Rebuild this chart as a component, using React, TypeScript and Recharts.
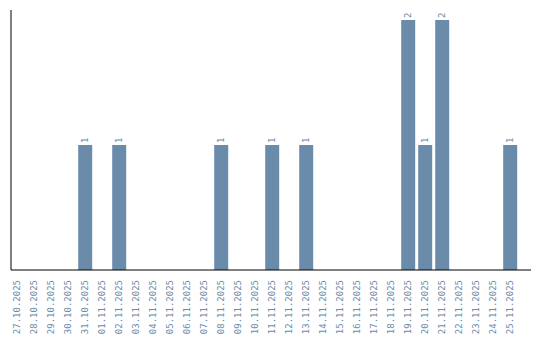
import React from "react";
import { BarChart, Bar, XAxis, YAxis, LabelList } from "recharts";

const dates = [
  "27.10.2025", "28.10.2025", "29.10.2025", "30.10.2025", "31.10.2025",
  "01.11.2025", "02.11.2025", "03.11.2025", "04.11.2025", "05.11.2025",
  "06.11.2025", "07.11.2025", "08.11.2025", "09.11.2025", "10.11.2025",
  "11.11.2025", "12.11.2025", "13.11.2025", "14.11.2025", "15.11.2025",
  "16.11.2025", "17.11.2025", "18.11.2025", "19.11.2025", "20.11.2025",
  "21.11.2025", "22.11.2025", "23.11.2025", "24.11.2025", "25.11.2025",
];

const counts = [
  0, 0, 0, 0, 1,
  0, 1, 0, 0, 0,
  0, 0, 1, 0, 0,
  1, 0, 1, 0, 0,
  0, 0, 0, 2, 1,
  2, 0, 0, 0, 1,
];

const data = dates.map((d, i) => ({ date: d, count: counts[i] }));

const BLUE = "#6a8caa";
const MONO = "'DejaVu Sans Mono', monospace";

// rotated date labels under the axis
const DateTick = (props: any) => {
  const { x, y, payload } = props;
  const ty = y + 2;
  return (
    <text
      x={x}
      y={ty}
      transform={`rotate(-90, ${x}, ${ty})`}
      textAnchor="end"
      dominantBaseline="central"
      fill={BLUE}
      fontSize={9}
      fontFamily={MONO}
    >
      {payload.value}
    </text>
  );
};

// value above each bar, skip empty days
const ValueLabel = (props: any) => {
  const { x, y, width, value } = props;
  if (!value) return null;
  const cx = x + width / 2;
  const ty = y - 2;
  return (
    <text
      x={cx}
      y={ty}
      transform={`rotate(-90, ${cx}, ${ty})`}
      textAnchor="start"
      dominantBaseline="central"
      fill={BLUE}
      fontSize={9}
      fontFamily={MONO}
    >
      {value}
    </text>
  );
};

export default function App() {
  return (
    <div style={{ position: "absolute", left: 0, top: 0, background: "#fff" }}>
      <BarChart
        width={540}
        height={340}
        data={data}
        margin={{ top: 10, right: 9, left: 10, bottom: 0 }}
        barCategoryGap="10%"
      >
        <XAxis
          dataKey="date"
          interval={0}
          height={70}
          tickLine={false}
          axisLine={{ stroke: "#000" }}
          tick={<DateTick />}
          padding={{ left: -2.5, right: 12.5 }}
        />
        <YAxis
          width={1}
          tick={false}
          tickLine={false}
          axisLine={{ stroke: "#000" }}
          domain={[0, 2]}
          padding={{ top: 10, bottom: 0 }}
        />
        <Bar dataKey="count" fill={BLUE} isAnimationActive={false}>
          <LabelList dataKey="count" content={<ValueLabel />} />
        </Bar>
      </BarChart>
    </div>
  );
}
